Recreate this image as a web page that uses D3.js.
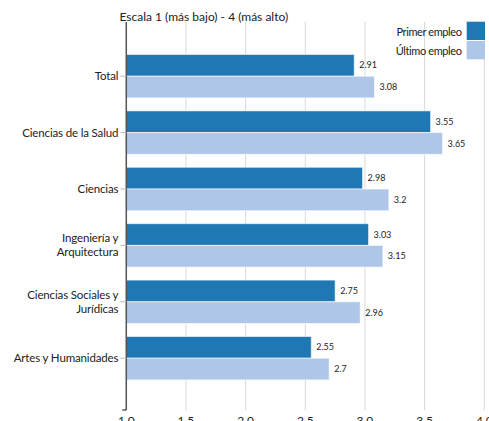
<!DOCTYPE html>
<html><head><meta charset="utf-8">
<script src="https://cdn.jsdelivr.net/npm/d3@7"></script>
<style>body{margin:0;background:#fff;} svg{display:block;font-family:Lato,sans-serif;}</style>
</head><body>
<svg id="c" width="489" height="421"></svg>
<script>
const categories = ["Total","Ciencias de la Salud","Ciencias","Ingeniería y\nArquitectura","Ciencias Sociales y\nJurídicas","Artes y Humanidades"];
const series = ["Primer empleo","Último empleo"];
const primerEmpleo = [2.91,3.55,2.98,3.03,2.75,2.55];
const ultimoEmpleo = [3.08,3.65,3.2,3.15,2.96,2.7];
const xTicks = [1.0,1.5,2.0,2.5,3.0,3.5,4.0];
const colors = ["#1f77b4","#aec7e8"];
const title = "Escala 1 (más bajo) - 4 (más alto)";

const svg = d3.select("#c");
const x = d3.scaleLinear().domain([1,4]).range([126.3,484.3]);
const y = d3.scaleBand().domain(categories).range([48,386.4]).paddingInner(0.23).paddingOuter(0.115);
const ys = d3.scaleBand().domain(series).range([0,y.bandwidth()]).padding(0);
const plotTop = 22, plotBottom = 410;

// grid
svg.append("g").selectAll("line").data(xTicks).join("line")
  .attr("x1",d=>x(d)).attr("x2",d=>x(d)).attr("y1",plotTop).attr("y2",plotBottom)
  .attr("stroke","#d9d9d9").attr("stroke-width",1);

// bars
const data = categories.map((c,i)=>({c, vals:[primerEmpleo[i],ultimoEmpleo[i]]}));
const g = svg.append("g").selectAll("g").data(data).join("g")
  .attr("transform",d=>`translate(0,${y(d.c)})`);
g.selectAll("rect").data(d=>d.vals.map((v,j)=>({v,s:series[j],j}))).join("rect")
  .attr("x",x(1)).attr("y",d=>ys(d.s)).attr("width",d=>x(d.v)-x(1)).attr("height",ys.bandwidth())
  .attr("fill",d=>colors[d.j]).attr("stroke","#fff").attr("stroke-opacity",0.6).attr("stroke-width",1);
g.selectAll("text").data(d=>d.vals.map((v,j)=>({v,s:series[j],j}))).join("text")
  .attr("x",d=>x(d.v)+5).attr("y",d=>ys(d.s)+ys.bandwidth()/2).attr("dy","0.35em")
  .attr("font-size",9).attr("fill","#222").text(d=>d.v);

// y axis
const ya = svg.append("g");
ya.append("line").attr("x1",x(1)).attr("x2",x(1)).attr("y1",plotTop).attr("y2",plotBottom).attr("stroke","#555").attr("stroke-width",1.5);
ya.append("line").attr("x1",x(1)-4).attr("x2",x(1)).attr("y1",plotBottom).attr("y2",plotBottom).attr("stroke","#555").attr("stroke-width",1.5);
const yt = ya.selectAll("g").data(categories).join("g").attr("transform",d=>`translate(0,${y(d)+y.bandwidth()/2})`);
yt.append("line").attr("x1",x(1)-6).attr("x2",x(1)).attr("stroke","#bbb");
yt.append("text").attr("x",x(1)-8).attr("text-anchor","end").attr("font-size",11.5).attr("letter-spacing",-0.15).attr("fill","#222")
  .each(function(d){
    const lines = d.split("\n");
    const t = d3.select(this);
    lines.forEach((l,i)=>t.append("tspan").attr("x",x(1)-8).attr("y",(i-(lines.length-1)/2)*14).attr("dy","0.35em").text(l));
  });

// x labels
svg.append("g").selectAll("text").data(xTicks).join("text")
  .attr("x",d=>x(d)).attr("y",425).attr("text-anchor","middle").attr("font-size",12).attr("fill","#222")
  .text(d=>d.toFixed(1));

// title
svg.append("text").attr("x",119.5).attr("y",21).attr("font-size",12).attr("fill","#222").text(title);

// legend
const lg = svg.append("g").selectAll("g").data(series).join("g")
  .attr("transform",(d,i)=>`translate(0,${21.7+i*19.3})`);
lg.append("rect").attr("x",466.7).attr("width",18.3).attr("height",18.3).attr("fill",(d,i)=>colors[i]);
lg.append("text").attr("x",461.5).attr("y",10.5).attr("dy","0.35em").attr("text-anchor","end").attr("font-size",11).attr("letter-spacing",-0.4).attr("fill","#222").text(d=>d);
</script>
</body></html>
